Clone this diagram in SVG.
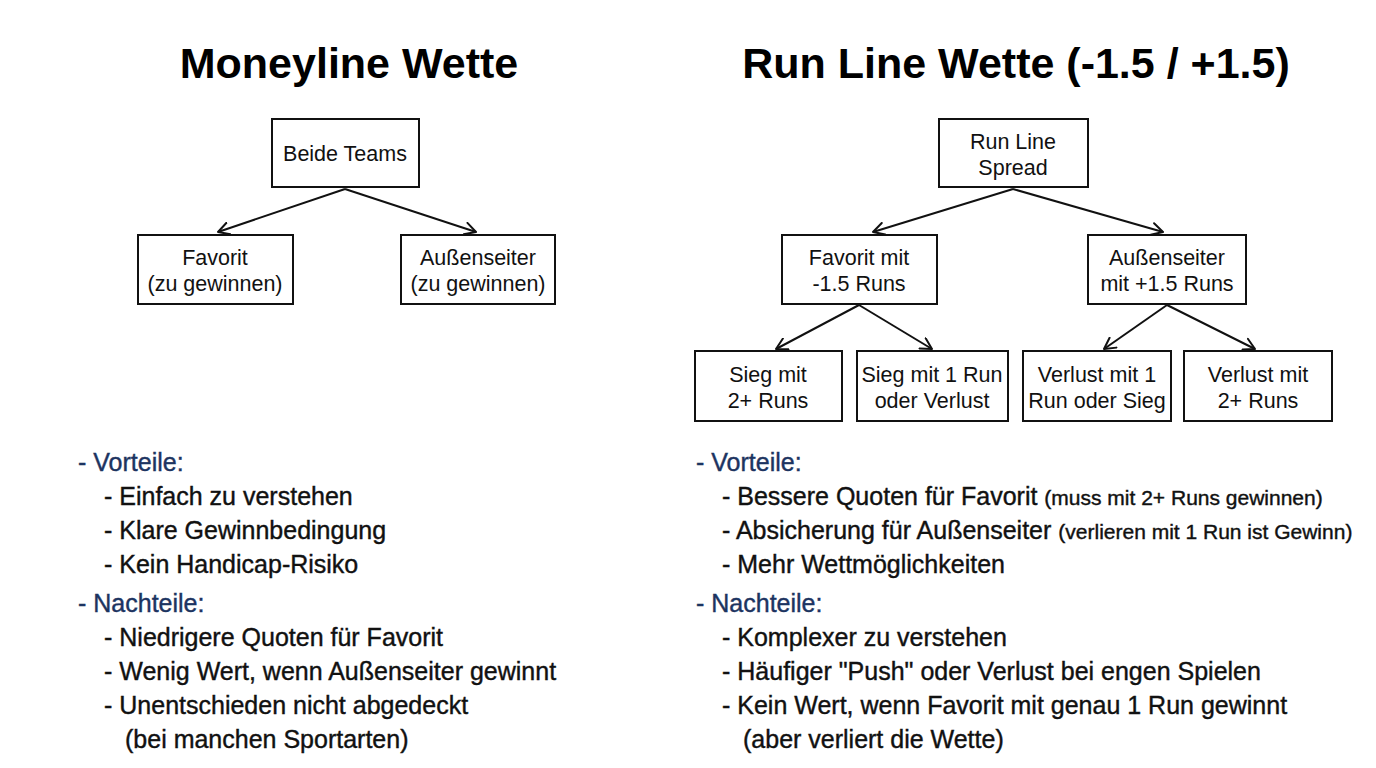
<svg xmlns="http://www.w3.org/2000/svg" width="1376" height="768" viewBox="0 0 1376 768">
<defs>
<marker id="arr" viewBox="0 0 14 14" refX="12" refY="7" markerWidth="14" markerHeight="14" markerUnits="userSpaceOnUse" orient="auto">
<path d="M1,1 L12,7 L1,13" fill="none" stroke="#111" stroke-width="2" stroke-linecap="round" stroke-linejoin="round"/>
</marker>
<style>
.title{font-family:"Liberation Sans",Arial,sans-serif;font-weight:bold;font-size:43px;fill:#000;text-anchor:middle}
.box{fill:#fff;stroke:#111;stroke-width:2}
.bt{font-family:"Liberation Sans",Arial,sans-serif;font-size:21.5px;fill:#111;text-anchor:middle}
.edge{stroke:#111;stroke-width:2;fill:none;marker-end:url(#arr)}
.hd{font-family:"Liberation Sans",Arial,sans-serif;font-size:25px;fill:#1c3461;stroke:#1c3461;stroke-width:0.4}
.it{font-family:"Liberation Sans",Arial,sans-serif;font-size:25px;fill:#111;stroke:#111;stroke-width:0.4}
.sm{font-size:21px}
</style>
</defs>
<rect width="1376" height="768" fill="#fff"/>
<text class="title" x="349" y="78">Moneyline Wette</text>
<text class="title" x="1016" y="78">Run Line Wette (-1.5 / +1.5)</text>

<g id="connectors">
<path class="edge" d="M345,189 L218,232"/>
<path class="edge" d="M345,189 L476,232"/>
<path class="edge" d="M1013,189 L873,232"/>
<path class="edge" d="M1013,189 L1163,232"/>
<path class="edge" d="M859,305 L776,349"/>
<path class="edge" d="M859,305 L932,349"/>
<path class="edge" d="M1167,305 L1104,349"/>
<path class="edge" d="M1167,305 L1255,349"/>
</g>

<g id="beide"><rect class="box" x="272" y="119" width="147" height="68"/><text class="bt" x="345" y="161">Beide Teams</text></g>
<g id="favorit"><rect class="box" x="138" y="235" width="155" height="69"/><text class="bt" x="215" y="265">Favorit</text><text class="bt" x="215" y="291">(zu gewinnen)</text></g>
<g id="aussenseiter"><rect class="box" x="401" y="235" width="154" height="69"/><text class="bt" x="478" y="265">Außenseiter</text><text class="bt" x="478" y="291">(zu gewinnen)</text></g>

<g id="runline"><rect class="box" x="939" y="119" width="149" height="68"/><text class="bt" x="1013" y="149">Run Line</text><text class="bt" x="1013" y="175">Spread</text></g>
<g id="fav15"><rect class="box" x="782" y="235" width="155" height="69"/><text class="bt" x="859" y="265">Favorit mit</text><text class="bt" x="859" y="291">-1.5 Runs</text></g>
<g id="aus15"><rect class="box" x="1088" y="235" width="158" height="69"/><text class="bt" x="1167" y="265">Außenseiter</text><text class="bt" x="1167" y="291">mit +1.5 Runs</text></g>
<g id="sieg2"><rect class="box" x="695" y="351" width="147" height="70"/><text class="bt" x="768" y="382">Sieg mit</text><text class="bt" x="768" y="408">2+ Runs</text></g>
<g id="sieg1"><rect class="box" x="857" y="351" width="151" height="70"/><text class="bt" x="932" y="382">Sieg mit 1 Run</text><text class="bt" x="932" y="408">oder Verlust</text></g>
<g id="verl1"><rect class="box" x="1023" y="351" width="148" height="70"/><text class="bt" x="1097" y="382">Verlust mit 1</text><text class="bt" x="1097" y="408">Run oder Sieg</text></g>
<g id="verl2"><rect class="box" x="1184" y="351" width="148" height="70"/><text class="bt" x="1258" y="382">Verlust mit</text><text class="bt" x="1258" y="408">2+ Runs</text></g>

<g id="left-list">
<text class="hd" x="78" y="471">- Vorteile:</text>
<text class="it" x="104" y="505">- Einfach zu verstehen</text>
<text class="it" x="104" y="539">- Klare Gewinnbedingung</text>
<text class="it" x="104" y="573">- Kein Handicap-Risiko</text>
<text class="hd" x="78" y="612">- Nachteile:</text>
<text class="it" x="104" y="646">- Niedrigere Quoten für Favorit</text>
<text class="it" x="104" y="680">- Wenig Wert, wenn Außenseiter gewinnt</text>
<text class="it" x="104" y="714">- Unentschieden nicht abgedeckt</text>
<text class="it" x="125" y="748">(bei manchen Sportarten)</text>
</g>

<g id="right-list">
<text class="hd" x="696" y="471">- Vorteile:</text>
<text class="it" x="722" y="505">- Bessere Quoten für Favorit <tspan class="sm">(muss mit 2+ Runs gewinnen)</tspan></text>
<text class="it" x="722" y="539">- Absicherung für Außenseiter <tspan class="sm">(verlieren mit 1 Run ist Gewinn)</tspan></text>
<text class="it" x="722" y="573">- Mehr Wettmöglichkeiten</text>
<text class="hd" x="696" y="612">- Nachteile:</text>
<text class="it" x="722" y="646">- Komplexer zu verstehen</text>
<text class="it" x="722" y="680">- Häufiger "Push" oder Verlust bei engen Spielen</text>
<text class="it" x="722" y="714">- Kein Wert, wenn Favorit mit genau 1 Run gewinnt</text>
<text class="it" x="743" y="748">(aber verliert die Wette)</text>
</g>
</svg>
